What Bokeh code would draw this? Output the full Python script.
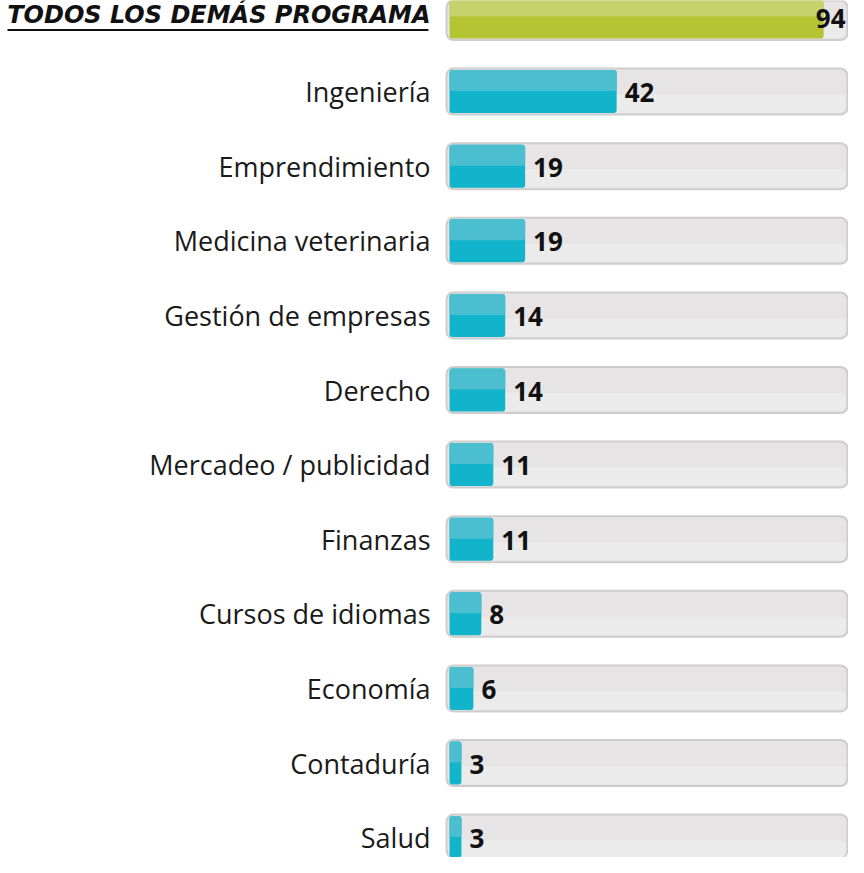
from bokeh.plotting import figure
from bokeh.models import Range1d, ColumnDataSource
from bokeh.core.properties import value
from bokeh.embed import file_html
from bokeh.resources import INLINE

# ---- data ----
categories = ["TODOS LOS DEMÁS PROGRAMA", "Ingeniería", "Emprendimiento",
              "Medicina veterinaria", "Gestión de empresas", "Derecho",
              "Mercadeo / publicidad", "Finanzas", "Cursos de idiomas",
              "Economía", "Contaduría", "Salud"]
values = [94, 42, 19, 19, 14, 14, 11, 11, 8, 6, 3, 3]
track_max = 100

# ---- layout constants ----
W, H = 848, 857
PX = 3.98          # pixels per unit
X0 = 449           # plot px where value 0 sits
ROW = 74.6         # row pitch in px
Y0 = 16.5          # plot px of first row centre

x_start = -X0 / PX
x_end = (W - X0) / PX
y_top = -Y0 / ROW
y_bottom = (H - Y0) / ROW

def ux(px):
    return px / PX

def uy(px):
    return px / ROW

idx = list(range(len(categories)))
upper_cols = ["#C6D26C" if i == 0 else "#4BBFCF" for i in idx]
lower_cols = ["#B5C433" if i == 0 else "#11B4CB" for i in idx]

txt_x = []
txt_align = []
for v in values:
    if v + ux(8) + ux(32) > track_max:
        txt_x.append(track_max - ux(2))
        txt_align.append("right")
    else:
        txt_x.append(v + ux(8))
        txt_align.append("left")

src = ColumnDataSource(dict(y=idx, v=values, upper=upper_cols, lower=lower_cols,
                            tx=txt_x, ta=txt_align, lab=[str(v) for v in values],
                            y_up=[i - uy(11) for i in idx],
                            y_bot=[i + uy(12) for i in idx],
                            y_txt=[i + uy(1) for i in idx]))

p = figure(width=W, height=H, x_range=Range1d(x_start, x_end),
           y_range=Range1d(y_bottom, y_top), output_backend="svg",
           toolbar_location=None, min_border=0,
           x_axis_location=None, y_axis_location=None)
p.grid.visible = False
p.outline_line_color = None
p.background_fill_color = "white"
p.border_fill_color = "white"

# track
p.hbar(y="y", left=-ux(3), right=track_max, height=uy(46), source=src,
       fill_color="#E6E4E5", line_color="#CDCDCD", line_width=2, border_radius=7)
p.hbar(y="y_bot", left=-ux(1), right=track_max - ux(2), height=uy(18), source=src,
       fill_color="#ECEBEB", line_color=None, border_radius=5)

# filled bars
p.hbar(y="y", left=0, right="v", height=uy(43), source=src,
       fill_color="lower", line_color=None, border_radius=3)
p.hbar(y="y_up", left=0, right="v", height=uy(21), source=src,
       fill_color="upper", line_color=None, border_radius=3)

# value labels
p.text(x="tx", y="y_txt", text="lab", text_align="ta", text_baseline="middle",
       source=src, text_font=value("Open Sans"), text_font_style="bold",
       text_font_size="26px", text_color="#111111")

# category labels
lab_x = -ux(19)
p.text(x=[lab_x] * (len(categories) - 1), y=idx[1:], text=categories[1:],
       text_align="right", text_baseline="middle",
       text_font=value("Open Sans"), text_font_size="27px", text_color="#1a1a1a")

# headline label (bold italic, underlined)
p.text(x=[lab_x], y=[idx[0] - uy(2)], text=[categories[0]],
       text_align="right", text_baseline="middle",
       text_font=value("DejaVu Sans"), text_font_style="bold italic",
       text_font_size="24px", text_color="#111111")
p.segment(x0=[-ux(442)], x1=[lab_x - ux(2)], y0=[idx[0] + uy(13)], y1=[idx[0] + uy(13)],
          line_color="#111111", line_width=2)

open("out.html", "w").write(file_html(p, INLINE))
